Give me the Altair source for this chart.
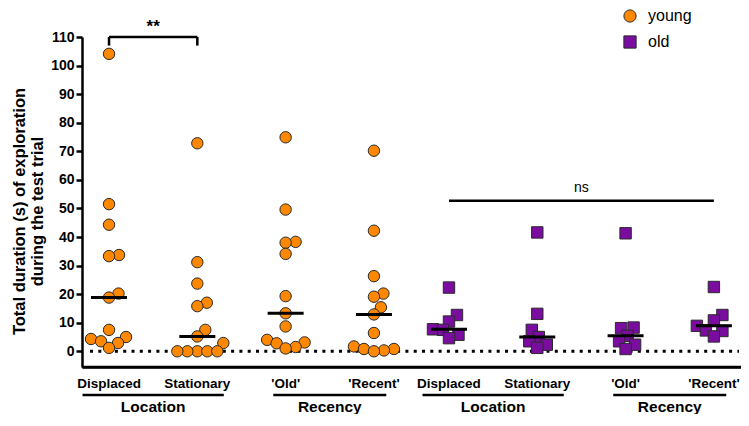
import altair as alt
import pandas as pd

# ---------------- data ----------------
categories = ["Displaced", "Stationary", "'Old'", "'Recent'"]
ages = ["young", "old"]

young_displaced = [104.1, 51.5, 44.3, 33.7, 33.3, 20.2, 18.8, 7.5, 5.0, 4.3, 3.5, 2.9, 1.2]
young_stationary = [72.8, 31.2, 23.7, 17.0, 15.8, 7.5, 5.2, 2.9, 0.0, 0.0, 0.0, 0.0, 0.0]
young_old = [74.9, 49.6, 38.3, 38.0, 34.1, 19.3, 13.3, 8.7, 4.0, 3.1, 2.8, 1.5, 1.0]
young_recent = [70.2, 42.2, 26.3, 20.2, 19.1, 15.4, 12.9, 6.4, 1.7, 0.8, 0.8, 0.3, 0.0]
old_displaced = [22.3, 12.7, 10.4, 7.7, 7.5, 5.8, 4.6]
old_stationary = [41.6, 13.1, 7.5, 5.0, 3.5, 2.3, 1.2]
old_old = [41.3, 8.3, 8.1, 5.4, 3.5, 2.3, 0.8]
old_recent = [22.5, 12.7, 10.8, 8.9, 7.3, 7.1, 5.2]

y_ticks = [0, 10, 20, 30, 40, 50, 60, 70, 80, 90, 100, 110]
sig_young_label = "**"
sig_young_level = 110
sig_old_label = "ns"
sig_old_level = 52.7

series = {
    ("young", 0): young_displaced,
    ("young", 1): young_stationary,
    ("young", 2): young_old,
    ("young", 3): young_recent,
    ("old", 0): old_displaced,
    ("old", 1): old_stationary,
    ("old", 2): old_old,
    ("old", 3): old_recent,
}

# ---------------- layout ----------------
W, H = 659, 330
X_DOM = [-0.306, 7.157]
Y_DOM = [-5.5, 110]
OLD_SHIFT = 3.85          # horizontal slot of the "old" block
ORANGE = "#FF8800"
PURPLE = "#7A0DA0"
EDGE = "#2a2a2a"
FONT = "Liberation Sans"

px_x = W / (X_DOM[1] - X_DOM[0])
px_y = H / (Y_DOM[1] - Y_DOM[0])


def slot(age, i):
    return i + (OLD_SHIFT if age == "old" else 0)


def swarm(vals, d=10.0):
    """simple deterministic beeswarm layout (pixel space)"""
    placed = []
    offs = [0.0] * len(vals)
    order = sorted(range(len(vals)), key=lambda k: vals[k])
    for k in order:
        y = vals[k] * px_y
        best = None
        step = 0
        while best is None:
            cands = [0.0] if step == 0 else [step * 0.5, -step * 0.5]
            for c in cands:
                if all((c - px) ** 2 + (y - py) ** 2 >= d * d for px, py in placed):
                    best = c
                    break
            step += 1
        placed.append((best, y))
        offs[k] = best / px_x
    return offs


rows = []
for (age, i), vals in series.items():
    offs = swarm(vals)
    for v, o in zip(vals, offs):
        rows.append({"age": age, "slot": slot(age, i), "pos": slot(age, i) + o, "value": v})
pts = pd.DataFrame(rows)

labels_df = pd.DataFrame(
    [{"pos": slot(a, i), "label": categories[i]} for a in ages for i in range(4)]
)

under_rows = []
for a in ages:
    for j, name in enumerate(["Location", "Recency"]):
        ext = 0.3 if name == "Location" else 0.14
        p0, p1 = slot(a, 2 * j), slot(a, 2 * j + 1)
        under_rows.append({"pos": p0 - ext, "pos2": p1 + ext, "mid": (p0 + p1) / 2, "name": name})
under_df = pd.DataFrame(under_rows)

brk_df = pd.DataFrame([
    {"pos": slot("young", 0), "pos2": slot("young", 1), "value": sig_young_level, "value2": sig_young_level},
    {"pos": slot("young", 0), "pos2": slot("young", 0), "value": sig_young_level, "value2": sig_young_level - 3},
    {"pos": slot("young", 1), "pos2": slot("young", 1), "value": sig_young_level, "value2": sig_young_level - 3},
    {"pos": slot("old", 0), "pos2": slot("old", 3), "value": sig_old_level, "value2": sig_old_level},
])
star_df = pd.DataFrame([
    {"pos": (slot("young", 0) + slot("young", 1)) / 2, "value": sig_young_level + 10 / px_y, "t": sig_young_label},
])
ns_df = pd.DataFrame([
    {"pos": (slot("old", 0) + slot("old", 3)) / 2, "value": sig_old_level + 13 / px_y, "t": sig_old_label},
])
xaxis_df = pd.DataFrame({"value": [Y_DOM[0]]})

xs = alt.Scale(domain=X_DOM, nice=False, zero=False)
ys = alt.Scale(domain=Y_DOM, nice=False, zero=False)

x_axis = alt.Axis(labels=False, ticks=False, grid=False, title=None, domain=True,
                  orient="bottom", domainColor="black", domainWidth=2.5)
y_axis = alt.Axis(values=y_ticks, grid=False,
                  title=["Total duration (s) of  exploration", "during the test trial"],
                  titleFontSize=16.5, titleFontWeight="bold", titleColor="black",
                  titlePadding=5, titleY=174, labelFontSize=14, labelFontWeight="bold",
                  labelColor="black", labelPadding=2, tickSize=6, tickWidth=2.5,
                  tickColor="black", domainColor="black", domainWidth=2.5)


def X(field):
    return alt.X(field, scale=xs, axis=x_axis)


def Y(field):
    return alt.Y(field, scale=ys, axis=y_axis)


legend = alt.Legend(title=None, orient="none", legendX=540, legendY=-29,
                    labelFontSize=16, labelColor="black", symbolSize=150,
                    symbolStrokeColor=EDGE, symbolStrokeWidth=1, rowPadding=8,
                    labelOffset=10, padding=0)

zero_line = alt.Chart(pd.DataFrame({"value": [0]})).mark_rule(
    color="black", strokeWidth=3, strokeDash=[3, 5.3]
).encode(
    y=Y("value:Q"),
    x=alt.value(8), x2=alt.value(W - 2),
)

bottom_line = alt.Chart(xaxis_df).mark_rule(color="black", strokeWidth=2.5).encode(
    y=Y("value:Q"), x=alt.value(0), x2=alt.value(W),
)

points = alt.Chart(pts).mark_point(
    filled=True, size=130, stroke=EDGE, strokeWidth=1, opacity=1
).encode(
    x=X("pos:Q"),
    y=Y("value:Q"),
    color=alt.Color("age:N", scale=alt.Scale(domain=ages, range=[ORANGE, PURPLE]), legend=legend),
    shape=alt.Shape("age:N", scale=alt.Scale(domain=ages, range=["circle", "square"]), legend=legend),
)

medians = alt.Chart(pts).transform_aggregate(
    value="median(value)", groupby=["slot"]
).transform_calculate(pos="datum.slot").mark_tick(
    orient="horizontal", size=36, thickness=3, color="black", opacity=1
).encode(
    x=X("pos:Q"),
    y=Y("value:Q"),
)

brackets = alt.Chart(brk_df).mark_rule(color="black", strokeWidth=2.5).encode(
    x=X("pos:Q"), x2="pos2:Q",
    y=Y("value:Q"), y2="value2:Q",
)

star_text = alt.Chart(star_df).mark_text(
    baseline="middle", color="black", fontSize=17, fontWeight="bold"
).encode(x=X("pos:Q"), y=Y("value:Q"), text="t:N")

ns_text = alt.Chart(ns_df).mark_text(
    baseline="middle", color="black", fontSize=14
).encode(x=X("pos:Q"), y=Y("value:Q"), text="t:N")

cat_labels = alt.Chart(labels_df).mark_text(
    fontSize=13.5, fontWeight="bold", baseline="middle", color="black"
).encode(x=X("pos:Q"), y=alt.value(H + 17), text="label:N")

underlines = alt.Chart(under_df).mark_rule(color="black", strokeWidth=2.5).encode(
    x=X("pos:Q"), x2="pos2:Q", y=alt.value(H + 28),
)

group_labels = alt.Chart(under_df).transform_calculate(pos="datum.mid").mark_text(
    fontSize=15.5, fontWeight="bold", baseline="middle", color="black"
).encode(x=X("pos:Q"), y=alt.value(H + 40), text="name:N")

chart = alt.layer(
    zero_line, bottom_line, points, medians, brackets, star_text, ns_text,
    cat_labels, underlines, group_labels
).properties(
    width=W, height=H,
    autosize=alt.AutoSizeParams(type="none"),
    padding={"left": 74, "top": 29, "right": 0, "bottom": 47},
).configure(font=FONT).configure_view(stroke=None)

chart.save("out.html", embed_options={"renderer": "svg", "actions": False})
